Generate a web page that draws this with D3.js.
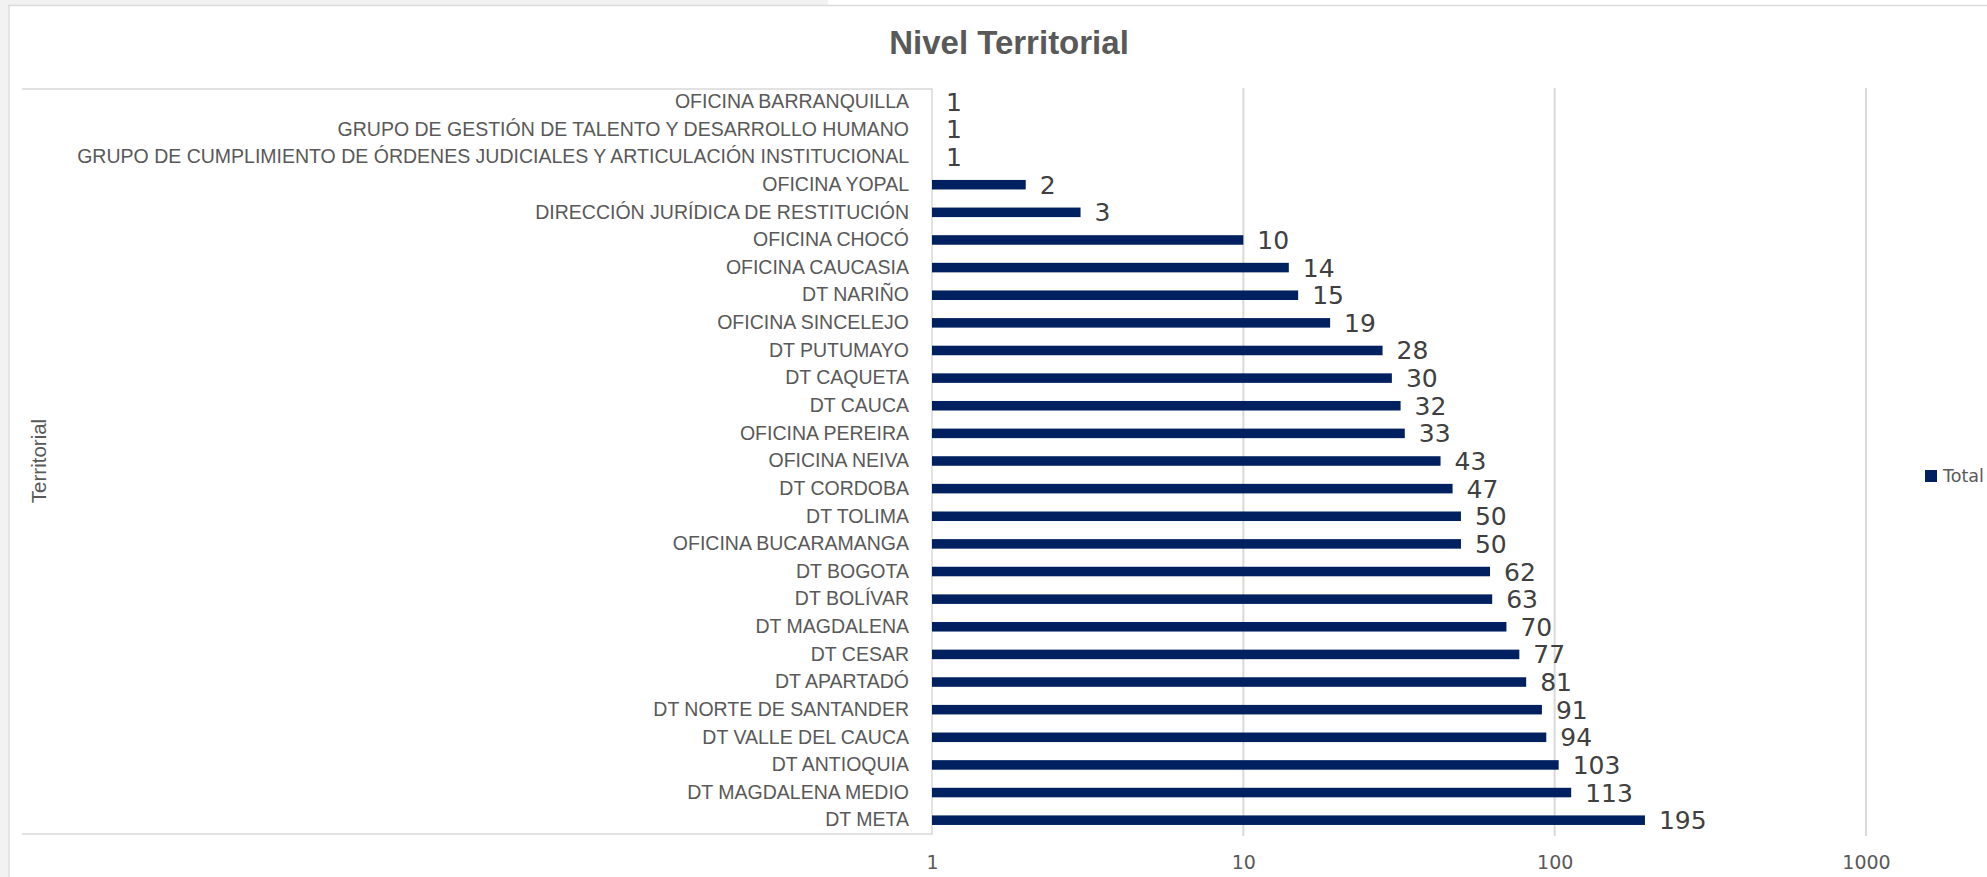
<!DOCTYPE html>
<html>
<head>
<meta charset="utf-8">
<script src="https://cdn.jsdelivr.net/npm/d3@7"></script>
<style>
  html, body { margin: 0; padding: 0; background: #fff; }
  svg { display: block; }
</style>
</head>
<body>
<div id="chart"></div>
<script>
const categories = [
  "OFICINA BARRANQUILLA",
  "GRUPO DE GESTIÓN DE TALENTO Y DESARROLLO HUMANO",
  "GRUPO DE CUMPLIMIENTO DE ÓRDENES JUDICIALES Y ARTICULACIÓN INSTITUCIONAL",
  "OFICINA YOPAL",
  "DIRECCIÓN JURÍDICA DE RESTITUCIÓN",
  "OFICINA CHOCÓ",
  "OFICINA CAUCASIA",
  "DT NARIÑO",
  "OFICINA SINCELEJO",
  "DT PUTUMAYO",
  "DT CAQUETA",
  "DT CAUCA",
  "OFICINA PEREIRA",
  "OFICINA NEIVA",
  "DT CORDOBA",
  "DT TOLIMA",
  "OFICINA BUCARAMANGA",
  "DT BOGOTA",
  "DT BOLÍVAR",
  "DT MAGDALENA",
  "DT CESAR",
  "DT APARTADÓ",
  "DT NORTE DE SANTANDER",
  "DT VALLE DEL CAUCA",
  "DT ANTIOQUIA",
  "DT MAGDALENA MEDIO",
  "DT META"
];
const totals = [1, 1, 1, 2, 3, 10, 14, 15, 19, 28, 30, 32, 33, 43, 47, 50, 50, 62, 63, 70, 77, 81, 91, 94, 103, 113, 195];
const tickValues = [1, 10, 100, 1000];
const seriesName = "Total";
const title = "Nivel Territorial";
const axisTitle = "Territorial";

const width = 1987;
const height = 877;
const barColor = "#002060";
const gridColor = "#d9d9d9";

const data = categories.map((c, i) => ({ name: c, value: totals[i] }));

const svg = d3.select("#chart")
  .append("svg")
  .attr("width", width)
  .attr("height", height);

// frame of the sheet around the chart
svg.append("rect").attr("x", 0).attr("y", 0).attr("width", 828).attr("height", 5).attr("fill", "#f2f2f2");
svg.append("rect").attr("x", 0).attr("y", 0).attr("width", 8).attr("height", height).attr("fill", "#f2f2f2");
svg.append("line").attr("x1", 8).attr("x2", width).attr("y1", 5.5).attr("y2", 5.5)
  .attr("stroke", "#dcdcdc").attr("stroke-width", 1.5);
svg.append("line").attr("x1", 9).attr("x2", 9).attr("y1", 5).attr("y2", height)
  .attr("stroke", "#dcdcdc").attr("stroke-width", 1.5);

const x = d3.scaleLog()
  .domain([1, 1000])
  .range([932, 1866]);

const y = d3.scaleBand()
  .domain(categories)
  .range([88, 834])
  .paddingInner(0.655)
  .paddingOuter(0.3275);

// gridlines
svg.append("g")
  .selectAll("line")
  .data(tickValues.slice(1))
  .join("line")
  .attr("x1", d => x(d))
  .attr("x2", d => x(d))
  .attr("y1", 88)
  .attr("y2", 836)
  .attr("stroke", gridColor)
  .attr("stroke-width", 2);

// category label box
svg.append("path")
  .attr("d", `M22,89H${x(1)}V834H22`)
  .attr("fill", "none")
  .attr("stroke", gridColor)
  .attr("stroke-width", 1.5);

// x axis labels
const xAxis = d3.axisBottom(x)
  .tickValues(tickValues)
  .tickFormat(d3.format("d"))
  .tickSize(0)
  .tickPadding(0);

const gx = svg.append("g")
  .attr("transform", "translate(0,855)")
  .call(xAxis);
gx.select(".domain").remove();
gx.selectAll("text")
  .attr("font-family", "DejaVu Sans, sans-serif")
  .attr("font-size", 19)
  .attr("fill", "#595959");

// y axis labels
const yAxis = d3.axisLeft(y).tickSize(0).tickPadding(23);
const gy = svg.append("g")
  .attr("transform", `translate(${x(1)},0)`)
  .call(yAxis);
gy.select(".domain").remove();
gy.selectAll("text")
  .attr("font-family", "Liberation Sans, Arial, sans-serif")
  .attr("font-size", 19.5)
  .attr("fill", "#595959");

// bars
svg.append("g")
  .selectAll("rect")
  .data(data)
  .join("rect")
  .attr("x", x(1))
  .attr("y", d => y(d.name))
  .attr("width", d => x(d.value) - x(1))
  .attr("height", y.bandwidth())
  .attr("fill", barColor);

// value labels
svg.append("g")
  .selectAll("text")
  .data(data)
  .join("text")
  .attr("x", d => x(d.value) + 14)
  .attr("y", d => y(d.name) + y.bandwidth() / 2)
  .attr("dy", "0.36em")
  .attr("font-family", "DejaVu Sans, sans-serif")
  .attr("font-size", 25)
  .attr("fill", "#404040")
  .text(d => d.value);

// title
svg.append("text")
  .attr("x", 1009)
  .attr("y", 54)
  .attr("text-anchor", "middle")
  .attr("font-family", "Liberation Sans, Arial, sans-serif")
  .attr("font-weight", "bold")
  .attr("font-size", 33)
  .attr("fill", "#595959")
  .text(title);

// axis title
svg.append("text")
  .attr("transform", "translate(46,461) rotate(-90)")
  .attr("text-anchor", "middle")
  .attr("font-family", "Liberation Sans, Arial, sans-serif")
  .attr("font-size", 20.5)
  .attr("fill", "#595959")
  .text(axisTitle);

// legend
const legend = svg.append("g").attr("transform", "translate(1925,476)");
legend.append("rect")
  .attr("x", 0).attr("y", -6)
  .attr("width", 12).attr("height", 12)
  .attr("fill", barColor);
legend.append("text")
  .attr("x", 18)
  .attr("y", 0)
  .attr("dy", "0.36em")
  .attr("font-family", "DejaVu Sans, sans-serif")
  .attr("font-size", 17.5)
  .attr("fill", "#595959")
  .text(seriesName);
</script>
</body>
</html>
